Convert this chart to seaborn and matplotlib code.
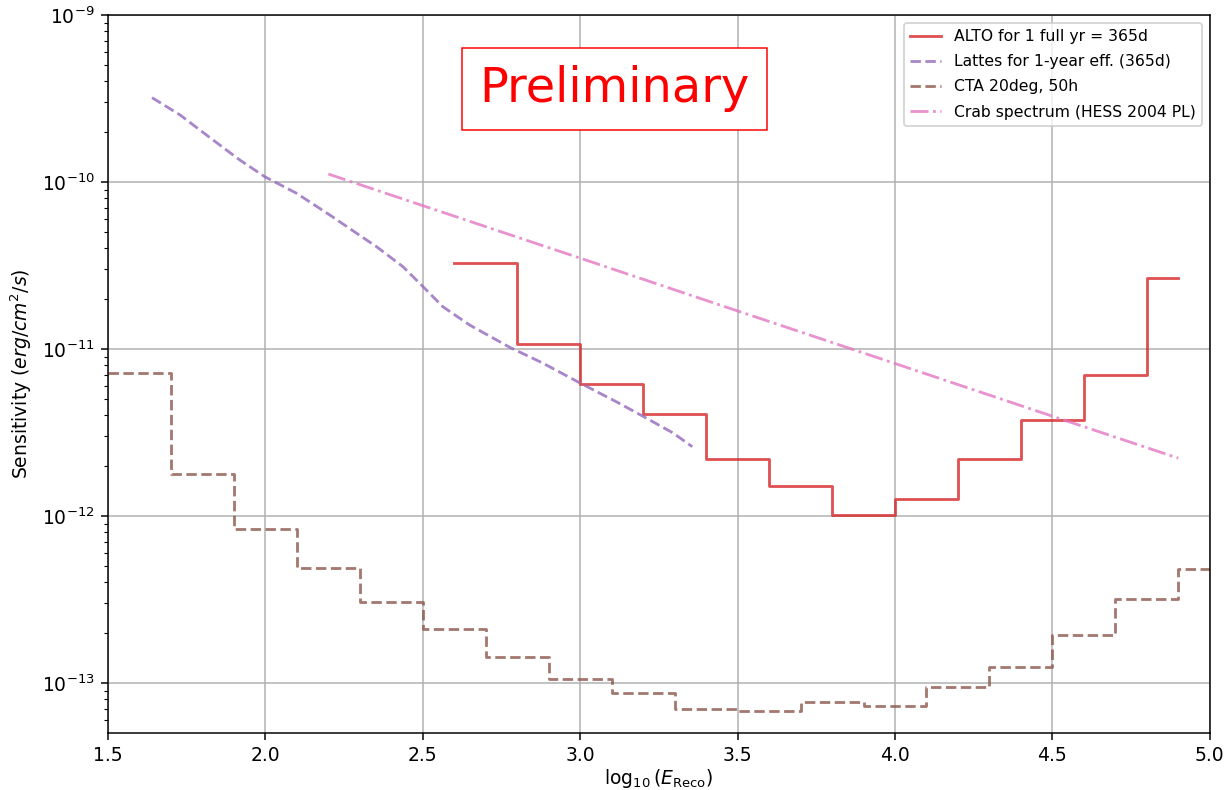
import numpy as np
import pandas as pd
import seaborn as sns
import matplotlib
matplotlib.use("Agg")
import matplotlib.pyplot as plt

# ALTO, 1 full year (bin edges in log10(E/GeV), last value repeated for the step)
alto_x = [2.6, 2.8, 3.0, 3.2, 3.4, 3.6, 3.8, 4.0, 4.2, 4.4, 4.6, 4.8, 4.9]
alto_y = [3.29e-11, 1.067e-11, 6.17e-12, 4.06e-12, 2.185e-12, 1.512e-12,
          1.014e-12, 1.269e-12, 2.185e-12, 3.76e-12, 7.02e-12, 2.65e-11, 2.65e-11]

# Lattes, 1-year effective
lattes_x = [1.640, 1.729, 1.834, 1.919, 1.998, 2.099, 2.205, 2.290, 2.353, 2.437,
            2.501, 2.564, 2.649, 2.776, 2.881, 2.998, 3.115, 3.198, 3.294, 3.356]
lattes_y = [3.20e-10, 2.52e-10, 1.784e-10, 1.354e-10, 1.076e-10, 8.56e-11, 6.34e-11,
            4.93e-11, 4.10e-11, 3.11e-11, 2.36e-11, 1.79e-11, 1.392e-11, 1.024e-11,
            8.24e-12, 6.28e-12, 4.83e-12, 3.97e-12, 3.15e-12, 2.60e-12]

# CTA 20deg, 50h
cta_x = [1.5, 1.7, 1.9, 2.1, 2.3, 2.5, 2.7, 2.9, 3.1, 3.3, 3.5, 3.7, 3.9, 4.1,
         4.3, 4.5, 4.7, 4.9, 5.1]
cta_y = [7.15e-12, 1.784e-12, 8.32e-13, 4.90e-13, 3.07e-13, 2.10e-13, 1.425e-13,
         1.061e-13, 8.75e-14, 6.99e-14, 6.77e-14, 7.69e-14, 7.25e-14, 9.50e-14,
         1.252e-13, 1.938e-13, 3.18e-13, 4.82e-13, 4.82e-13]

# Crab spectrum (HESS 2004 PL)
crab_x = [2.2, 2.5, 3.0, 3.5, 4.0, 4.5, 4.9]
crab_y = [1.116e-10, 7.22e-11, 3.50e-11, 1.69e-11, 8.19e-12, 3.96e-12, 2.22e-12]

dpi = 135
fig, ax = plt.subplots(figsize=(1227 / dpi, 790 / dpi), dpi=dpi)
fig.subplots_adjust(left=0.088, right=0.986, top=0.981, bottom=0.072)

sns.lineplot(x=alto_x, y=alto_y, ax=ax, color="tab:red", alpha=0.8, lw=1.5,
             drawstyle="steps-post", estimator=None, sort=False,
             label="ALTO for 1 full yr = 365d")
sns.lineplot(x=lattes_x, y=lattes_y, ax=ax, color="tab:purple", alpha=0.8, lw=1.5,
             linestyle="--", estimator=None, sort=False,
             label="Lattes for 1-year eff. (365d)")
sns.lineplot(x=cta_x, y=cta_y, ax=ax, color="tab:brown", alpha=0.8, lw=1.5,
             linestyle="--", drawstyle="steps-post", estimator=None, sort=False,
             label="CTA 20deg, 50h")
sns.lineplot(x=crab_x, y=crab_y, ax=ax, color="tab:pink", alpha=0.8, lw=1.5,
             linestyle="-.", estimator=None, sort=False,
             label="Crab spectrum (HESS 2004 PL)")

ax.set_yscale("log")
ax.set_xlim(1.5, 5.0)
ax.set_ylim(10 ** -13.3, 1e-9)
ax.grid(True, color="#b0b0b0", lw=0.8)
ax.set_xlabel(r"$\log_{10}(E_{\rm Reco})$", labelpad=1)
ax.set_ylabel(r"Sensitivity ($erg/cm^2/s$)")
ax.legend(loc="upper right", fontsize="small", labelspacing=0.65)

ax.text(0.46, 0.897, "Preliminary", transform=ax.transAxes, color="red",
        fontsize=25.5, ha="center", va="center",
        bbox=dict(boxstyle="square,pad=0.36", facecolor="white", edgecolor="red", lw=0.8))

fig.savefig("out.png", dpi=dpi)
